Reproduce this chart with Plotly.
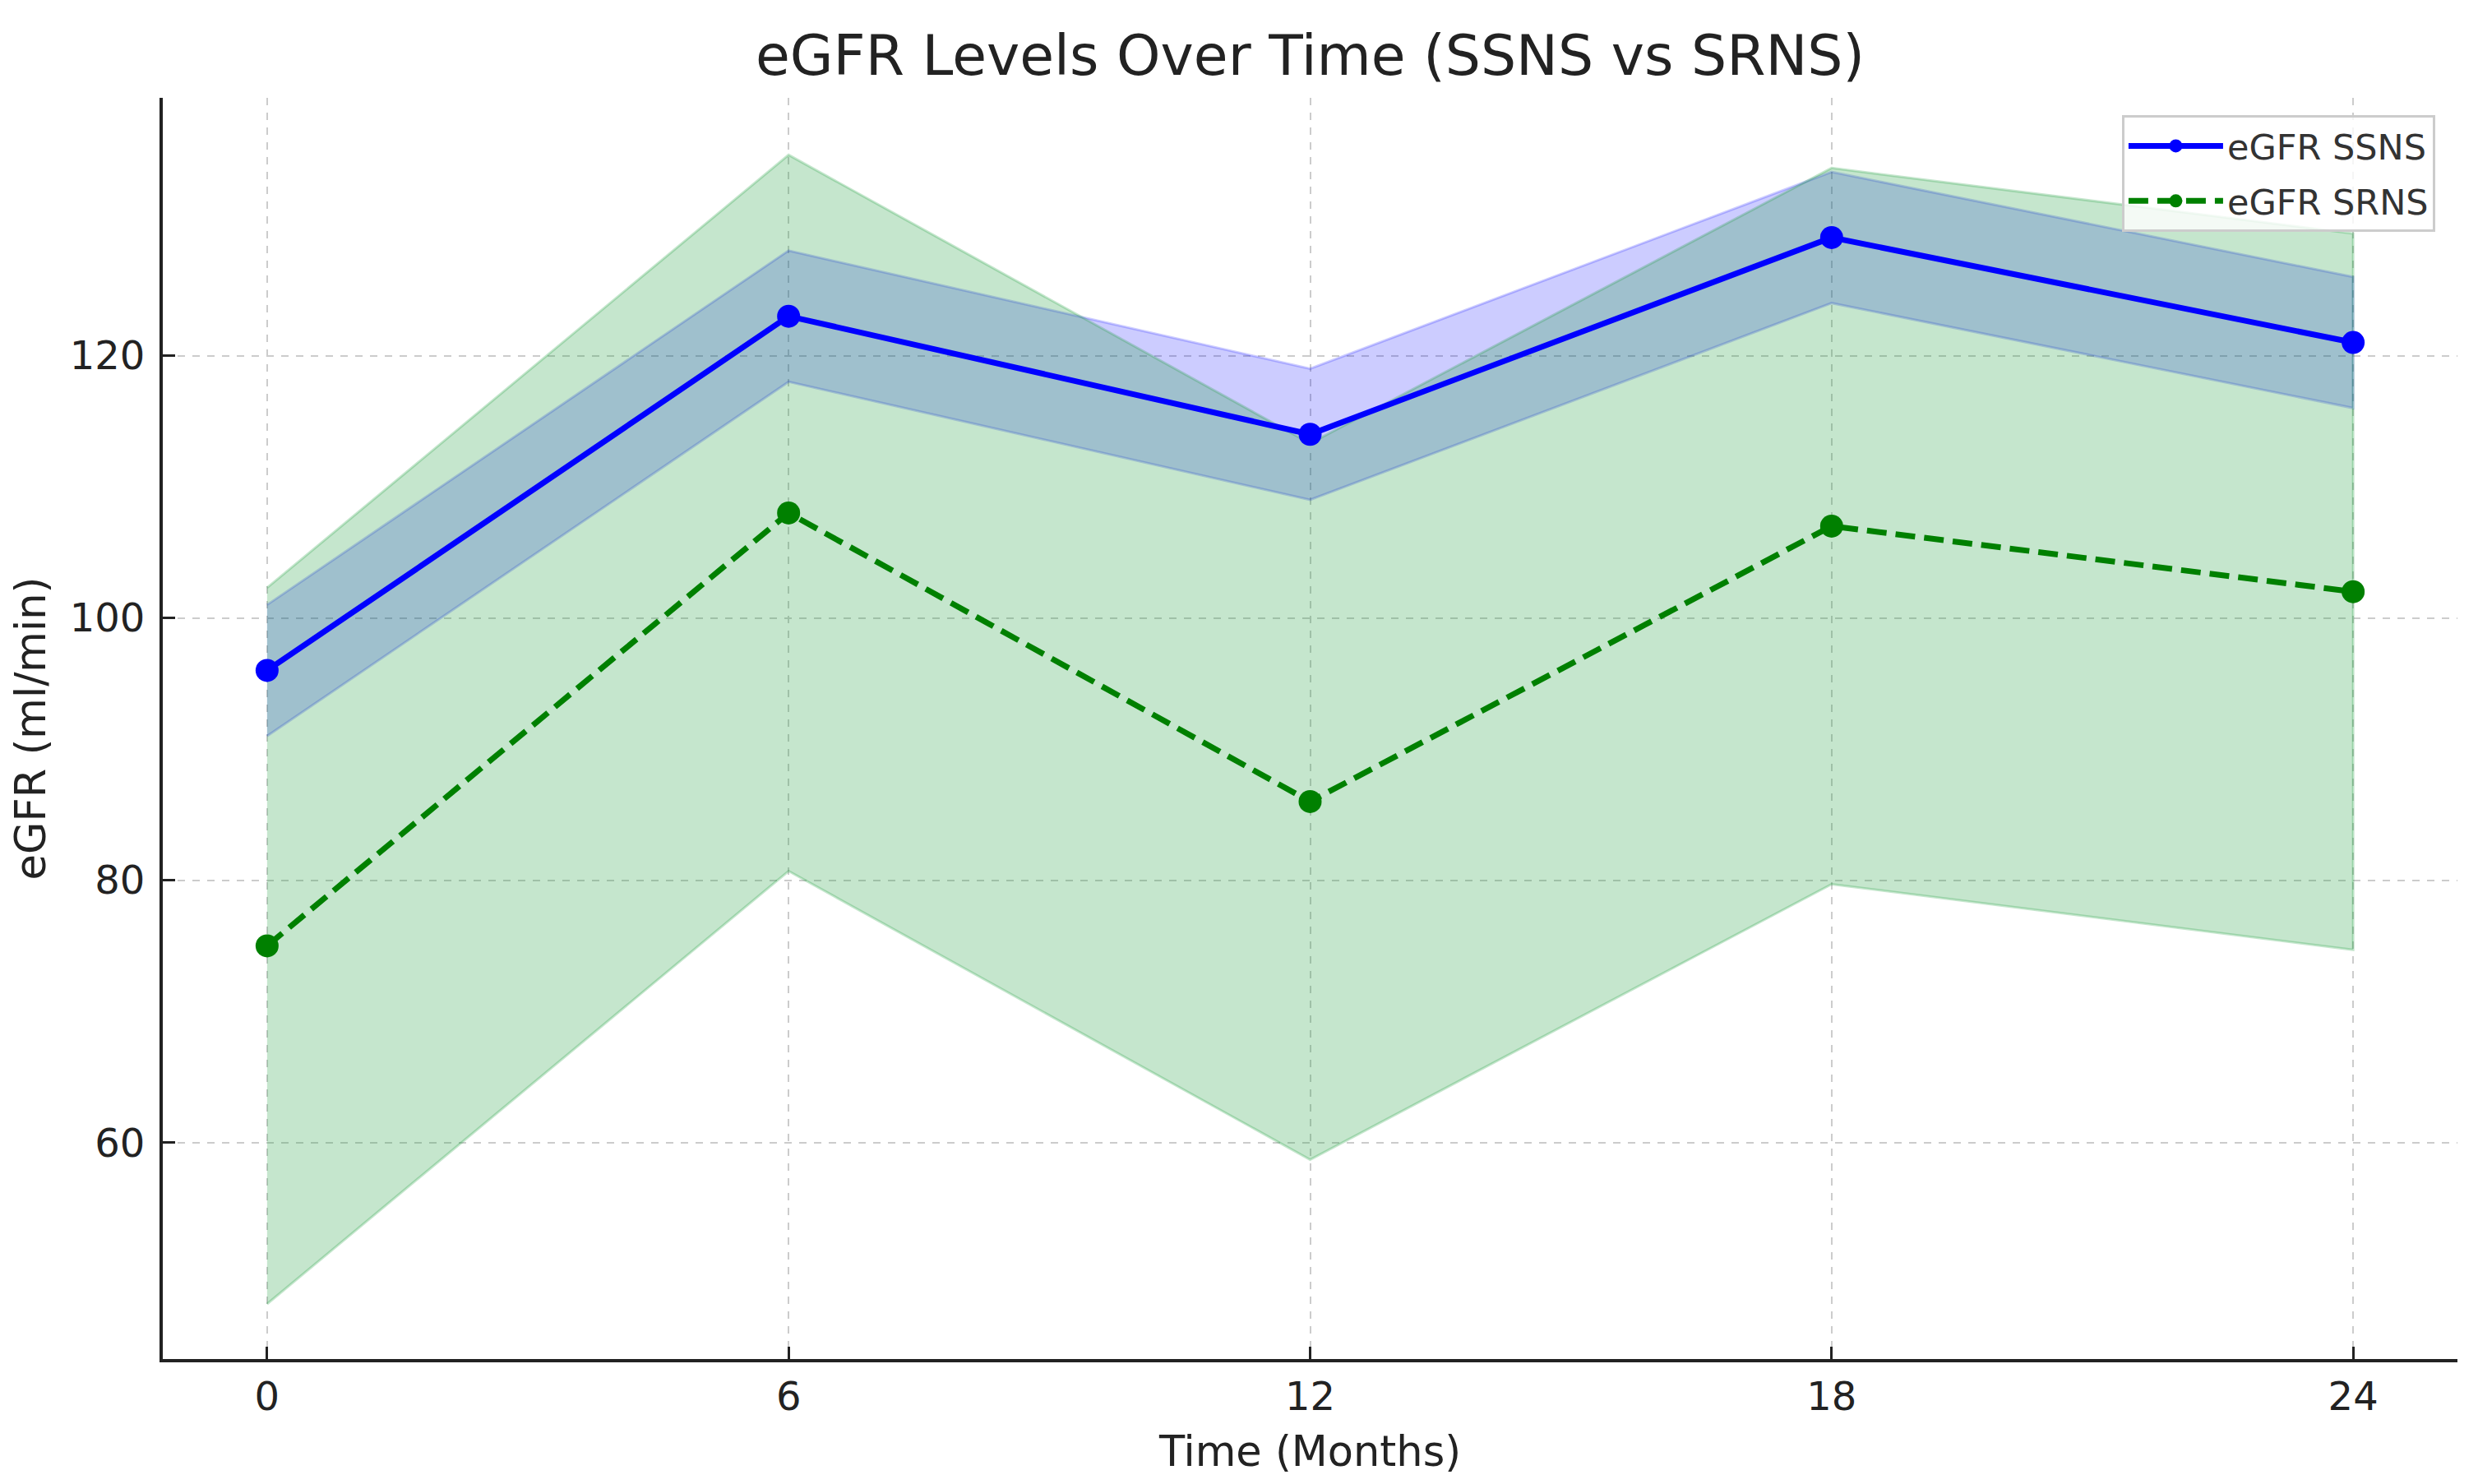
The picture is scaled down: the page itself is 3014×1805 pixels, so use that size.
import plotly.graph_objects as go

months = [0, 6, 12, 18, 24]
tick_labels = ["0", "6", "12", "18", "24"]

ssns_mean = [96, 123, 114, 129, 121]
ssns_upper = [101, 128, 119, 134, 126]
ssns_lower = [91, 118, 109, 124, 116]

srns_mean = [75, 108, 86, 107, 102]
srns_upper = [102.3, 135.3, 113.3, 134.3, 129.3]
srns_lower = [47.7, 80.7, 58.7, 79.7, 74.7]

y_ticks = [60, 80, 100, 120]

FONT = "DejaVu Sans"
OFF = 8  # default page body margin
W, H = 3014 - OFF, 1805 - OFF
ML, MR, MT, MB = 198 - OFF, 25, 119 - OFF, 152

fig = go.Figure()

def band(upper, lower, rgba_fill, rgba_edge):
    fig.add_trace(go.Scatter(
        x=months + months[::-1],
        y=upper + lower[::-1],
        mode="lines",
        fill="toself",
        fillcolor=rgba_fill,
        line=dict(color=rgba_edge, width=3),
        showlegend=False,
        hoverinfo="skip",
    ))

band(ssns_upper, ssns_lower, "rgba(0,0,255,0.2)", "rgba(0,0,255,0.2)")
band(srns_upper, srns_lower, "rgba(23,155,55,0.25)", "rgba(23,155,55,0.25)")

fig.add_trace(go.Scatter(
    x=months, y=ssns_mean, mode="lines+markers", name="eGFR SSNS",
    legendgroup="ssns",
    line=dict(color="#0000ff", width=7),
    marker=dict(color="#0000ff", size=28),
))
fig.add_trace(go.Scatter(
    x=months, y=srns_mean, mode="lines+markers", name="eGFR SRNS",
    legendgroup="srns",
    line=dict(color="#008000", width=7, dash="24px,11px"),
    marker=dict(color="#008000", size=28),
))

axis_common = dict(
    showline=True, linewidth=4, linecolor="#222222", mirror=False,
    ticks="inside", ticklen=15, tickwidth=3, tickcolor="#222222",
    showgrid=True, gridcolor="#cccccc", gridwidth=2, griddash="dash",
    zeroline=False,
    tickfont=dict(family=FONT, size=48, color="#222222"),
    title_font=dict(family=FONT, size=51, color="#222222"),
)

fig.update_xaxes(
    range=[-1.2, 25.2], tickvals=months, ticktext=tick_labels,
    title_text="Time (Months)", title_standoff=24, ticklabelstandoff=0,
    **axis_common,
)
fig.update_yaxes(
    range=[43.5, 139.65], tickvals=y_ticks,
    title_text="eGFR (ml/min)", title_standoff=26, ticklabelstandoff=8,
    **axis_common,
)

fig.update_layout(
    width=W, height=H,
    margin=dict(l=ML, r=MR, t=MT, b=MB),
    paper_bgcolor="white", plot_bgcolor="white",
    font=dict(family=FONT, color="#222222"),
    title=dict(
        text="eGFR Levels Over Time (SSNS vs SRNS)",
        x=(ML + (W - ML - MR) / 2) / W, xanchor="center",
        y=1 - (67 - OFF) / H, yanchor="middle",
        font=dict(family=FONT, size=68, color="#222222"),
    ),
    legend=dict(
        x=0.9903, y=0.9863, xanchor="right", yanchor="top",
        bgcolor="rgba(255,255,255,0.8)", bordercolor="#cccccc", borderwidth=3,
        font=dict(family=FONT, size=43, color="#333333"),
        itemwidth=115, traceorder="grouped", tracegroupgap=8,
    ),
)

fig.write_html("out.html")
